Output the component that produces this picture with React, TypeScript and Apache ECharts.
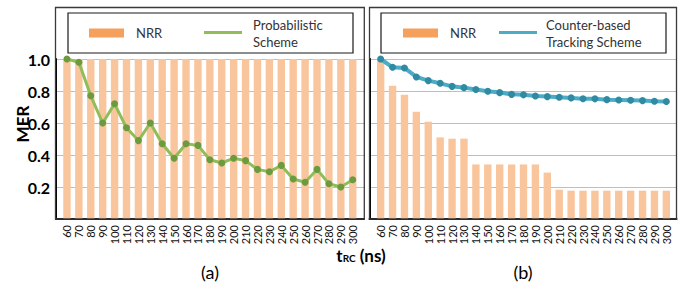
import React, { useEffect, useRef } from "react";
import * as echarts from "echarts";

const categories = ["60","70","80","90","100","110","120","130","140","150","160","170","180","190","200","210","220","230","240","250","260","270","280","290","300"];
const nrrA = [1,1,1,1,1,1,1,1,1,1,1,1,1,1,1,1,1,1,1,1,1,1,1,1,1];
const probabilistic = [1.0,0.98,0.77,0.6,0.72,0.57,0.49,0.6,0.47,0.38,0.47,0.46,0.37,0.35,0.38,0.365,0.31,0.295,0.335,0.25,0.23,0.31,0.22,0.2,0.245];
const nrrB = [1.0,0.833,0.777,0.67,0.608,0.51,0.502,0.502,0.341,0.341,0.341,0.341,0.341,0.341,0.29,0.183,0.177,0.177,0.177,0.177,0.177,0.177,0.177,0.177,0.177];
const counterBased = [1.0,0.948,0.944,0.888,0.865,0.848,0.829,0.821,0.809,0.798,0.79,0.779,0.776,0.769,0.765,0.761,0.757,0.752,0.751,0.746,0.744,0.742,0.74,0.736,0.734];
const yTicks = { min: 0, max: 1, interval: 0.2 };

const FONT = "Lato";
const BAR = "#F9C59D";
const SWATCH = "#F5A05C";
const GREEN = "#90BD57";
const GREEN_DOT = "#6C9A3E";
const BLUE = "#4BACC6";
const BLUE_DOT = "#2F8AA2";

export default function App() {
  const ref = useRef<HTMLDivElement>(null);
  useEffect(() => {
    const chart = echarts.init(ref.current!, undefined, { renderer: "svg" });
    const frameGrid = (left: number, width: number) => ({ left, width, top: 59, bottom: 66 });
    const dataGrid = (left: number, width: number) => ({ left, width, top: 59, bottom: 66 });
    const frameX = (gi: number) => ({
      type: "value", gridIndex: gi, min: 0, max: 1,
      axisLine: { show: true, lineStyle: { color: "#000", width: 2 } },
      axisTick: { show: false }, axisLabel: { show: false }, splitLine: { show: false },
    });
    const frameY = (gi: number, labels: boolean) => ({
      type: "value", gridIndex: gi, ...yTicks,
      axisLine: { show: true, lineStyle: { color: "#000", width: 2 } },
      axisTick: { show: false },
      splitLine: { show: true, lineStyle: { color: "#BFBFBF", width: 1 } },
      axisLabel: {
        show: labels, margin: 6, fontFamily: FONT, fontWeight: "bold", fontSize: 16, color: "#000",
        formatter: (v: number) => (v === 0 ? "" : v.toFixed(1)),
      },
    });
    const dataX = (gi: number) => ({
      type: "category", gridIndex: gi, data: categories,
      axisLine: { show: false }, axisTick: { show: false },
      axisLabel: { rotate: 90, margin: 6, fontFamily: FONT, fontSize: 11, color: "#111", interval: 0 },
    });
    const dataY = (gi: number) => ({ type: "value", gridIndex: gi, ...yTicks, show: false, splitLine: { show: false } });

    const legendBox = (x: number, y: number, w: number, h: number) => ({
      type: "rect", shape: { x, y, width: w, height: h },
      style: { fill: "#fff", stroke: "#1a1a1a", lineWidth: 1.2 }, z: 10,
    });
    const txt = (x: number, y: number, text: string) => ({
      type: "text", x, y, z: 11,
      style: { text, fontFamily: FONT, fontSize: 13, fill: "#333", textVerticalAlign: "middle", lineHeight: 17 },
    });

    chart.setOption({
      animation: false,
      grid: [frameGrid(56, 308), dataGrid(61, 297.7), frameGrid(369.5, 307), dataGrid(374.7, 297.6)],
      xAxis: [frameX(0), dataX(1), frameX(2), dataX(3)],
      yAxis: [frameY(0, true), dataY(1), frameY(2, false), dataY(3)],
      series: [
        { type: "bar", name: "NRR", xAxisIndex: 1, yAxisIndex: 1, data: nrrA, barCategoryGap: "38%", itemStyle: { color: BAR } },
        {
          type: "line", name: "Probabilistic Scheme", xAxisIndex: 1, yAxisIndex: 1, data: probabilistic,
          symbol: "circle", symbolSize: 7, lineStyle: { color: GREEN, width: 3 }, itemStyle: { color: GREEN_DOT },
        },
        { type: "bar", name: "NRR", xAxisIndex: 3, yAxisIndex: 3, data: nrrB, barCategoryGap: "38%", itemStyle: { color: BAR } },
        {
          type: "line", name: "Counter-based Tracking Scheme", xAxisIndex: 3, yAxisIndex: 3, data: counterBased,
          symbol: "circle", symbolSize: 7, lineStyle: { color: BLUE, width: 4 }, itemStyle: { color: BLUE_DOT },
        },
      ],
      graphic: [
        { type: "rect", shape: { x: 55.5, y: 7.5, width: 308.8, height: 211.5 }, style: { fill: "none", stroke: "#3a3a3a", lineWidth: 1.3 }, z: 5 },
        { type: "rect", shape: { x: 369.5, y: 7.5, width: 307, height: 211.5 }, style: { fill: "none", stroke: "#3a3a3a", lineWidth: 1.3 }, z: 5 },
        legendBox(68, 13, 285, 40),
        { type: "rect", shape: { x: 89, y: 28.5, width: 35, height: 9 }, style: { fill: SWATCH }, z: 11 },
        txt(136, 33, "NRR"),
        { type: "line", shape: { x1: 204, y1: 32.5, x2: 242, y2: 32.5 }, style: { stroke: GREEN, lineWidth: 3 }, z: 11 },
        txt(253, 33.5, "Probabilistic\nScheme"),
        legendBox(381, 13, 285, 40),
        { type: "rect", shape: { x: 403, y: 28.5, width: 35, height: 9 }, style: { fill: SWATCH }, z: 11 },
        txt(450, 33, "NRR"),
        { type: "line", shape: { x1: 499, y1: 32.5, x2: 537, y2: 32.5 }, style: { stroke: BLUE, lineWidth: 3 }, z: 11 },
        txt(546, 33.5, "Counter-based\nTracking Scheme"),
        {
          type: "text", x: 22, y: 124, rotation: Math.PI / 2,
          style: { text: "MER", fontFamily: FONT, fontWeight: "bold", fontSize: 17, fill: "#000", textAlign: "center", textVerticalAlign: "middle" },
        },
        {
          type: "text", x: 361, y: 255,
          style: {
            text: "{t|t}{s|RC}{n| (ns)}", textAlign: "center", textVerticalAlign: "middle",
            rich: {
              t: { fontFamily: FONT, fontWeight: "bold", fontSize: 17, fill: "#000" },
              s: { fontFamily: FONT, fontWeight: "bold", fontSize: 10, fill: "#000", padding: [6, 0, 0, 0] },
              n: { fontFamily: FONT, fontWeight: "bold", fontSize: 17, fill: "#000" },
            },
          },
        },
        { type: "text", x: 210, y: 272, style: { text: "(a)", fontFamily: FONT, fontSize: 18, fill: "#000", textAlign: "center", textVerticalAlign: "middle" } },
        { type: "text", x: 523, y: 272, style: { text: "(b)", fontFamily: FONT, fontSize: 18, fill: "#000", textAlign: "center", textVerticalAlign: "middle" } },
      ],
    });
    return () => chart.dispose();
  }, []);
  return <div ref={ref} style={{ position: "fixed", left: 0, top: 0, width: 688, height: 285, background: "#fff" }} />;
}
